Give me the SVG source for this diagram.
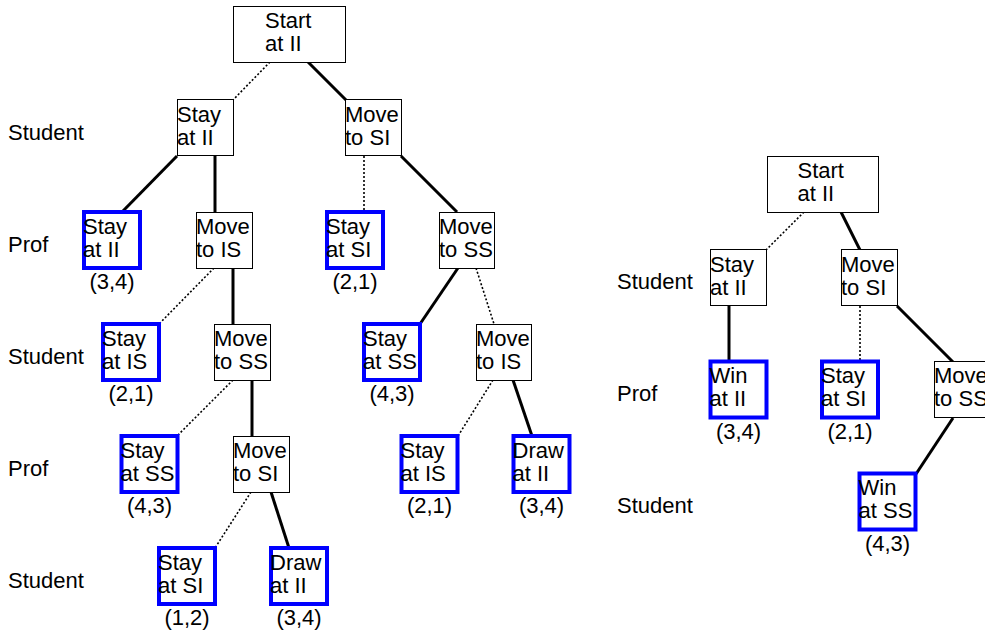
<svg xmlns="http://www.w3.org/2000/svg" width="985" height="632" viewBox="0 0 985 632">
<style>
text{font-family:"Liberation Sans",Arial,sans-serif;font-size:22px;fill:#000}
.pay{text-anchor:middle}
.box{fill:#fff;stroke:#000;stroke-width:1}
.term{fill:#fff;stroke:#0000ff;stroke-width:4}
.solid{stroke:#000;stroke-width:3;fill:none}
.dot{stroke:#000;stroke-width:1.6;stroke-dasharray:2 2;fill:none}
</style>
<rect width="985" height="632" fill="#fff"/>
<g id="row-labels">
<text x="8" y="140">Student</text>
<text x="8" y="252">Prof</text>
<text x="8" y="364">Student</text>
<text x="8" y="476">Prof</text>
<text x="8" y="588">Student</text>
<text x="617" y="289">Student</text>
<text x="617" y="401">Prof</text>
<text x="617" y="513">Student</text>
</g>
<g id="connectors">
<line class="dot" x1="270" y1="62" x2="233" y2="100"/>
<line class="solid" x1="308" y1="62" x2="346" y2="100"/>
<line class="solid" x1="177" y1="156" x2="122" y2="212"/>
<line class="solid" x1="215" y1="156" x2="215" y2="212"/>
<line class="dot" x1="364" y1="156" x2="364" y2="212"/>
<line class="solid" x1="401" y1="156" x2="457" y2="212"/>
<line class="dot" x1="214" y1="268" x2="159" y2="324"/>
<line class="solid" x1="233" y1="268" x2="233" y2="324"/>
<line class="solid" x1="458" y1="268" x2="420" y2="324"/>
<line class="dot" x1="476" y1="268" x2="494" y2="324"/>
<line class="dot" x1="233" y1="380" x2="177" y2="436"/>
<line class="solid" x1="252" y1="380" x2="252" y2="436"/>
<line class="dot" x1="493" y1="380" x2="458" y2="436"/>
<line class="solid" x1="513" y1="380" x2="532" y2="436"/>
<line class="dot" x1="251" y1="492" x2="215" y2="548"/>
<line class="solid" x1="271" y1="492" x2="289" y2="548"/>
<line class="dot" x1="804" y1="212" x2="766" y2="250"/>
<line class="solid" x1="841" y1="212" x2="860" y2="250"/>
<line class="solid" x1="729" y1="306" x2="729" y2="362"/>
<line class="dot" x1="860" y1="306" x2="860" y2="362"/>
<line class="solid" x1="897" y1="306" x2="953" y2="362"/>
<line class="solid" x1="953" y1="418" x2="916" y2="474"/>
</g>
<g id="L-start"><rect class="box" x="233.5" y="6.5" width="112" height="56"/><text x="265" y="28">Start</text><text x="265" y="51">at II</text></g>
<g id="L-stay-II-s"><rect class="box" x="177.5" y="99.5" width="56" height="56"/><text x="177" y="121.5">Stay</text><text x="177" y="144.5">at II</text></g>
<g id="L-move-SI-s"><rect class="box" x="345.5" y="99.5" width="56" height="56"/><text x="345" y="121.5">Move</text><text x="345" y="144.5">to SI</text></g>
<g id="L-stay-II-p"><rect class="term" x="84" y="212" width="56" height="56"/><text x="83" y="233.5">Stay</text><text x="83" y="256.5">at II</text><text class="pay" x="112" y="289">(3,4)</text></g>
<g id="L-move-IS-p"><rect class="box" x="196.5" y="212.5" width="56" height="56"/><text x="196" y="233.5">Move</text><text x="196" y="256.5">to IS</text></g>
<g id="L-stay-SI-p"><rect class="term" x="327" y="212" width="56" height="56"/><text x="326" y="233.5">Stay</text><text x="326" y="256.5">at SI</text><text class="pay" x="355" y="289">(2,1)</text></g>
<g id="L-move-SS-p"><rect class="box" x="439.5" y="212.5" width="55" height="56"/><text x="439" y="233.5">Move</text><text x="439" y="256.5">to SS</text></g>
<g id="L-stay-IS-s"><rect class="term" x="103" y="324" width="56" height="56"/><text x="102" y="345.5">Stay</text><text x="102" y="368.5">at IS</text><text class="pay" x="131" y="401">(2,1)</text></g>
<g id="L-move-SS-s"><rect class="box" x="214.5" y="324.5" width="56" height="56"/><text x="214" y="345.5">Move</text><text x="214" y="368.5">to SS</text></g>
<g id="L-stay-SS-s"><rect class="term" x="364" y="324" width="56" height="56"/><text x="363" y="345.5">Stay</text><text x="363" y="368.5">at SS</text><text class="pay" x="392" y="401">(4,3)</text></g>
<g id="L-move-IS-s"><rect class="box" x="476.5" y="324.5" width="55" height="56"/><text x="476" y="345.5">Move</text><text x="476" y="368.5">to IS</text></g>
<g id="L-stay-SS-p"><rect class="term" x="121.5" y="436" width="56" height="56"/><text x="120.5" y="457.5">Stay</text><text x="120.5" y="480.5">at SS</text><text class="pay" x="149.5" y="513">(4,3)</text></g>
<g id="L-move-SI-p"><rect class="box" x="233.5" y="436.5" width="56" height="56"/><text x="233" y="457.5">Move</text><text x="233" y="480.5">to SI</text></g>
<g id="L-stay-IS-p"><rect class="term" x="401.5" y="436" width="56" height="56"/><text x="400.5" y="457.5">Stay</text><text x="400.5" y="480.5">at IS</text><text class="pay" x="429.5" y="513">(2,1)</text></g>
<g id="L-draw-II-p"><rect class="term" x="513.5" y="436" width="56" height="56"/><text x="512.5" y="457.5">Draw</text><text x="512.5" y="480.5">at II</text><text class="pay" x="541.5" y="513">(3,4)</text></g>
<g id="L-stay-SI-s"><rect class="term" x="159" y="548" width="56" height="56"/><text x="158" y="569.5">Stay</text><text x="158" y="592.5">at SI</text><text class="pay" x="187" y="625">(1,2)</text></g>
<g id="L-draw-II-s"><rect class="term" x="271" y="548" width="56" height="56"/><text x="270" y="569.5">Draw</text><text x="270" y="592.5">at II</text><text class="pay" x="299" y="625">(3,4)</text></g>
<g id="R-start"><rect class="box" x="767.5" y="156.5" width="111" height="56"/><text x="797.5" y="178">Start</text><text x="797.5" y="201">at II</text></g>
<g id="R-stay-II"><rect class="box" x="710.5" y="249.5" width="56" height="56"/><text x="710" y="271.5">Stay</text><text x="710" y="294.5">at II</text></g>
<g id="R-move-SI"><rect class="box" x="841.5" y="249.5" width="56" height="56"/><text x="841" y="271.5">Move</text><text x="841" y="294.5">to SI</text></g>
<g id="R-win-II"><rect class="term" x="710.5" y="361.5" width="56" height="56"/><text x="709.5" y="383">Win</text><text x="709.5" y="406">at II</text><text class="pay" x="738.5" y="438.5">(3,4)</text></g>
<g id="R-stay-SI"><rect class="term" x="822" y="361.5" width="56" height="56"/><text x="821" y="383">Stay</text><text x="821" y="406">at SI</text><text class="pay" x="850" y="438.5">(2,1)</text></g>
<g id="R-move-SS"><rect class="box" x="934.5" y="361.5" width="56" height="56"/><text x="934" y="383">Move</text><text x="934" y="406">to SS</text></g>
<g id="R-win-SS"><rect class="term" x="859.5" y="473.5" width="56" height="56"/><text x="858.5" y="495">Win</text><text x="858.5" y="518">at SS</text><text class="pay" x="887.5" y="550.5">(4,3)</text></g>
</svg>
